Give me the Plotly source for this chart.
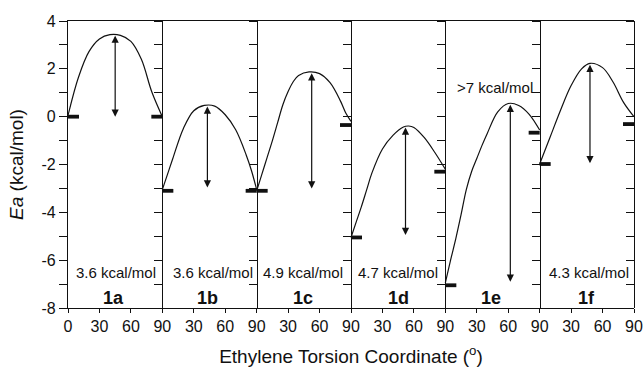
import plotly.graph_objects as go

# ---------------- data (panel-local torsion angle in degrees, energy in kcal/mol)
panels = ["1a", "1b", "1c", "1d", "1e", "1f"]
barrier_labels = ["3.6 kcal/mol", "3.6 kcal/mol", "4.9 kcal/mol", "4.7 kcal/mol", ">7 kcal/mol", "4.3 kcal/mol"]

curve_1a_x = [0, 10, 20, 30, 40, 50, 60, 70, 80, 90]
curve_1a_y = [0.05, 1.65, 2.72, 3.25, 3.43, 3.4, 3.15, 2.4, 1.03, 0.0]

curve_1b_x = [0, 5, 10, 20, 30, 40, 50, 60, 70, 80, 85, 90]
curve_1b_y = [-3.05, -2.4, -1.75, -0.5, 0.25, 0.47, 0.44, 0.08, -0.55, -1.6, -2.25, -3.05]

curve_1c_x = [0, 5, 10, 15, 20, 25, 30, 35, 40, 50, 60, 70, 80, 85, 90]
curve_1c_y = [-3.1, -2.4, -1.7, -1.0, -0.25, 0.5, 1.05, 1.47, 1.72, 1.87, 1.8, 1.42, 0.65, 0.15, -0.2]

curve_1d_x = [0, 5, 10, 15, 20, 30, 40, 50, 55, 60, 70, 80, 90]
curve_1d_y = [-5.05, -4.4, -3.75, -3.05, -2.35, -1.35, -0.78, -0.43, -0.39, -0.45, -0.88, -1.5, -2.2]

curve_1e_x = [0, 5, 10, 15, 20, 25, 30, 35, 40, 50, 60, 70, 80, 90]
curve_1e_y = [-6.95, -6.0, -5.1, -4.1, -3.05, -2.3, -1.75, -1.2, -0.7, 0.2, 0.55, 0.47, 0.1, -0.56]

curve_1f_x = [0, 10, 20, 30, 40, 48, 60, 70, 80, 90]
curve_1f_y = [-1.98, -0.85, 0.28, 1.3, 2.0, 2.23, 2.05, 1.45, 0.6, 0.0]

curves_x = [curve_1a_x, curve_1b_x, curve_1c_x, curve_1d_x, curve_1e_x, curve_1f_x]
curves_y = [curve_1a_y, curve_1b_y, curve_1c_y, curve_1d_y, curve_1e_y, curve_1f_y]

# reactant / product energy levels (thick bars)
level_left = [0.0, -3.1, -3.1, -5.05, -7.05, -1.98]
level_right = [0.0, -3.1, -0.35, -2.3, -0.67, -0.31]

# double-headed barrier arrows
arrow_x = [45, 43, 52.5, 52, 62, 48]
arrow_top = [3.45, 0.49, 1.88, -0.39, 0.56, 2.23]
arrow_bottom = [0.0, -2.96, -3.0, -4.95, -6.9, -1.95]

# label placement (panel-local)
barrier_label_x = [46, 48, 44, 45, 47, 47]
barrier_label_y = [-6.5, -6.5, -6.5, -6.5, 1.22, -6.5]
panel_label_x = [43, 43, 44, 45, 44, 45]
panel_label_y = -7.6

x_tick_vals = list(range(0, 541, 30))
x_tick_text = ["0"] + ["30", "60", "90"] * 6
y_tick_vals = [-8, -6, -4, -2, 0, 2, 4]
y_tick_text = ["-8", "-6", "-4", "-2", "0", "2", "4"]

PANEL_W = 90
BAR_LEN = 10.5
FONT = "Liberation Sans, Arial, sans-serif"
INK = "#111111"

fig = go.Figure()

for i in range(6):
    off = i * PANEL_W
    fig.add_trace(go.Scatter(
        x=[off + v for v in curves_x[i]], y=curves_y[i],
        mode="lines", line=dict(color=INK, width=1.2, shape="spline", smoothing=1.0),
        showlegend=False, hoverinfo="skip"))

# energy level bars
bx, by = [], []
for i in range(6):
    off = i * PANEL_W
    bx += [off, off + BAR_LEN, None, off + PANEL_W - BAR_LEN, off + PANEL_W, None]
    by += [level_left[i], level_left[i], None, level_right[i], level_right[i], None]
fig.add_trace(go.Scatter(x=bx, y=by, mode="lines", line=dict(color=INK, width=3.8),
                         showlegend=False, hoverinfo="skip"))

# dummy traces for the panel divider axes
for k in range(2, 8):
    fig.add_trace(go.Scatter(x=[None], y=[None], yaxis=f"y{k}", showlegend=False, hoverinfo="skip"))

annotations = []
for i in range(6):
    off = i * PANEL_W
    annotations.append(dict(
        x=off + arrow_x[i], y=arrow_bottom[i], ax=off + arrow_x[i], ay=arrow_top[i],
        xref="x", yref="y", axref="x", ayref="y", text="", showarrow=True,
        arrowhead=2, startarrowhead=2, arrowside="end+start", arrowsize=1.2, startarrowsize=1.2,
        arrowwidth=1.2, arrowcolor=INK, standoff=0, startstandoff=0))
    annotations.append(dict(
        x=off + barrier_label_x[i], y=barrier_label_y[i], xref="x", yref="y",
        text=barrier_labels[i], showarrow=False,
        font=dict(family=FONT, size=15, color=INK)))
    annotations.append(dict(
        x=off + panel_label_x[i], y=panel_label_y, xref="x", yref="y",
        text=f"<b>{panels[i]}</b>", showarrow=False,
        font=dict(family=FONT, size=18, color=INK)))

minor_ticks = dict(dtick=1, ticks="outside", ticklen=8, tickwidth=1.2, tickcolor=INK, showgrid=False)

layout_axes = {}
for k in range(2, 8):
    layout_axes[f"yaxis{k}"] = dict(
        overlaying="y", anchor="free", position=(k - 1) / 6, side="left",
        range=[-8, 4], tickvals=y_tick_vals, showticklabels=False,
        ticks="outside", ticklen=8, tickwidth=1.2, tickcolor=INK, minor=minor_ticks,
        showline=True, linecolor=INK, linewidth=1.2, automargin=False,
        showgrid=False, zeroline=False, fixedrange=True)

fig.update_layout(
    width=643, height=367,
    margin=dict(l=68, r=9, t=21, b=59),
    paper_bgcolor="white", plot_bgcolor="white",
    font=dict(family=FONT, size=16, color=INK),
    xaxis=dict(
        range=[0, 540], tickvals=x_tick_vals, ticktext=x_tick_text,
        ticks="outside", ticklen=4, tickwidth=1.2, tickcolor=INK,
        showline=True, mirror=True, linecolor=INK, linewidth=1.2,
        showgrid=False, zeroline=False, fixedrange=True, automargin=False,
        tickfont=dict(family=FONT, size=16, color=INK),
        title=dict(text="Ethylene Torsion Coordinate (<sup>o</sup>)",
                   font=dict(family=FONT, size=19, color=INK), standoff=15)),
    yaxis=dict(
        range=[-8, 4], tickvals=y_tick_vals, ticktext=y_tick_text,
        ticks="outside", ticklen=8, tickwidth=1.2, tickcolor=INK, minor=minor_ticks,
        showline=True, linecolor=INK, linewidth=1.2, automargin=False,
        showgrid=False, zeroline=False, fixedrange=True,
        tickfont=dict(family=FONT, size=16, color=INK),
        title=dict(text="<i>Ea</i> (kcal/mol)",
                   font=dict(family=FONT, size=19, color=INK), standoff=12)),
    annotations=annotations,
    showlegend=False,
    **layout_axes,
)

fig.write_html("out.html")
